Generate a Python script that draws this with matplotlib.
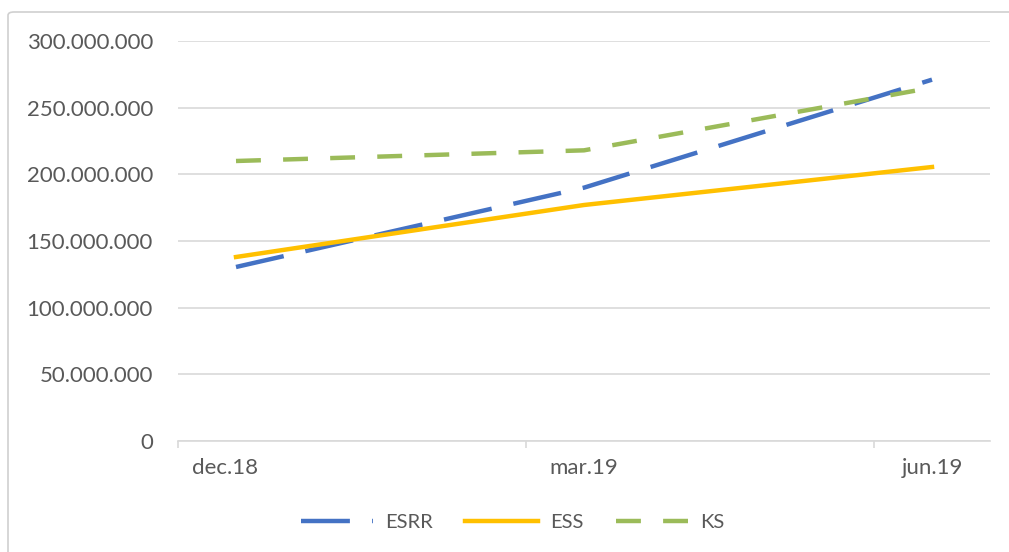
import matplotlib
matplotlib.use("Agg")
import matplotlib.pyplot as plt
import matplotlib.transforms as mtransforms
from matplotlib.patches import FancyBboxPatch
from matplotlib.ticker import FuncFormatter, FixedLocator

# Data
months = ["dec.18", "jan.19", "feb.19", "mar.19", "apr.19", "maj.19", "jun.19"]
point_months = ["dec.18", "mar.19", "jun.19"]
esrr = [130.5e6, 190e6, 271e6]
ess = [138e6, 177e6, 205.5e6]
ks = [210e6, 218e6, 265e6]
yticks = [0, 50e6, 100e6, 150e6, 200e6, 250e6, 300e6]

plt.rcParams['font.family'] = ['Lato', 'DejaVu Sans']

fig = plt.figure(figsize=(10.09, 5.52), dpi=100)
# chart border
fig.patches.append(FancyBboxPatch((8/1009, -0.05), 1.05, 1 - 12/552 + 0.05,
                                  boxstyle="round,pad=0,rounding_size=0.006",
                                  transform=fig.transFigure, fill=False,
                                  edgecolor="#D0D0D0", linewidth=1.2))

ax = fig.add_axes([178/1009, 1 - 441/552, (990 - 178)/1009, 400/552])
xs = [months.index(m) for m in point_months]

lw = 3.2
ax.plot(xs, esrr, color="#4472C4", lw=lw, dashes=(11, 5), dash_capstyle="butt",
        label="ESRR", zorder=3)
ax.plot(xs, ess, color="#FFC000", lw=lw, label="ESS", zorder=3)
ax.plot(xs, ks, color="#9BBB59", lw=lw, dashes=(5.6, 5), dash_capstyle="butt",
        label="KS", zorder=3)

ax.set_xlim(-0.5, len(months) - 0.5)
ax.set_ylim(0, 300e6)
ax.yaxis.set_major_locator(FixedLocator(yticks))
ax.yaxis.set_major_formatter(FuncFormatter(lambda v, p: f"{int(v):,}".replace(",", ".")))
ax.grid(axis="y", color="#D9D9D9", lw=1.2)
ax.set_axisbelow(True)

ax.set_xticks([-0.5, 2.5, 5.5])
ax.set_xticklabels([])
ax.set_xticks(xs, minor=True)
ax.set_xticklabels(point_months, minor=True)
ax.tick_params(axis="x", which="major", length=5, color="#D9D9D9", width=1.2)
ax.tick_params(axis="x", which="minor", length=0, pad=12, labelsize=16, labelcolor="#595959")
ax.tick_params(axis="y", length=0, pad=18, labelsize=16, labelcolor="#595959")

# first category label sits slightly left in the reference
first = ax.get_xticklabels(minor=True)[0]
first.set_transform(first.get_transform() +
                    mtransforms.ScaledTranslation(-11/100, 0, fig.dpi_scale_trans))

for s in ["top", "right", "left"]:
    ax.spines[s].set_visible(False)
ax.spines["bottom"].set_color("#D9D9D9")
ax.spines["bottom"].set_linewidth(1.2)

leg = fig.legend(loc="center", bbox_to_anchor=(0.508, 1 - 522/552), ncol=3, frameon=False,
                 fontsize=14.5, handlelength=3.6, columnspacing=1.6, handletextpad=0.6)
for t in leg.get_texts():
    t.set_color("#595959")

fig.savefig("out.png", dpi=100)
